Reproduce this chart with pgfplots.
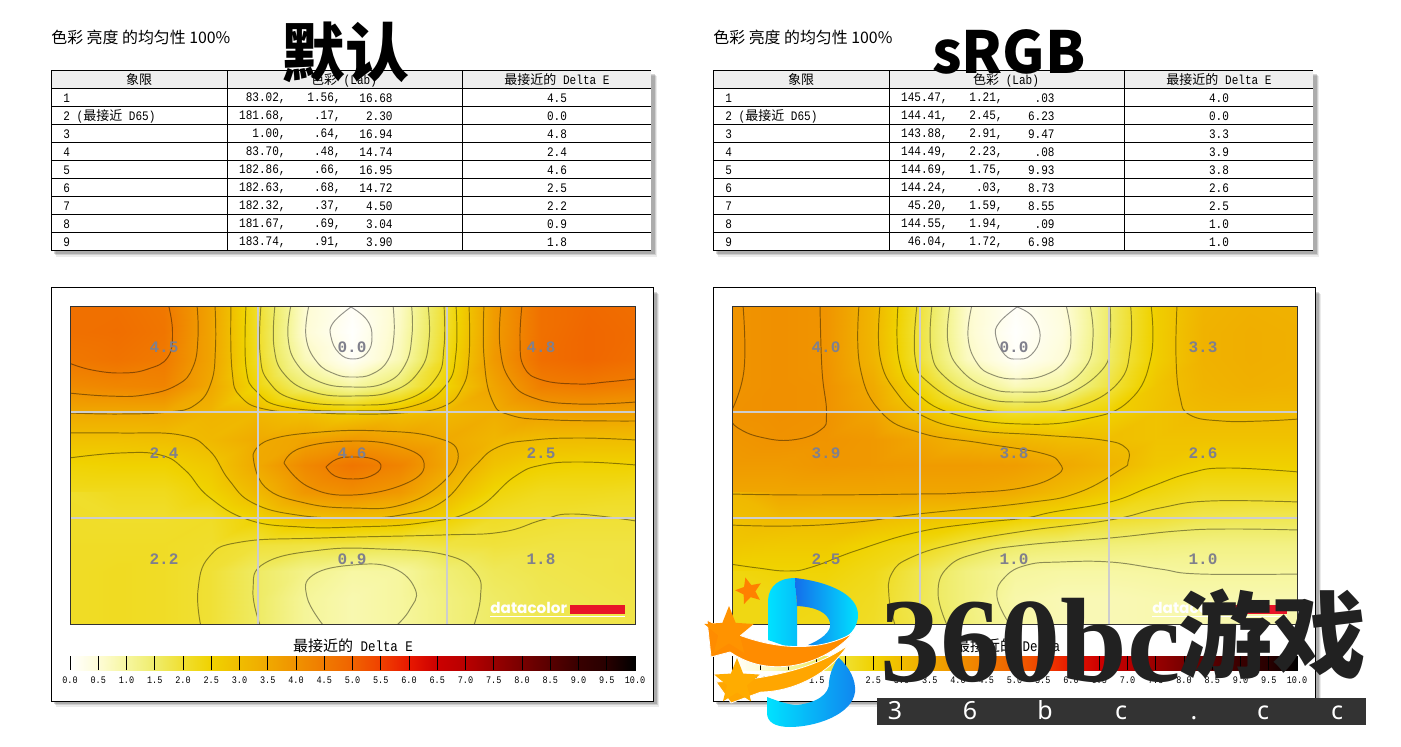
\documentclass[border=0pt]{standalone}
\usepackage{fontspec}
\usepackage{pgfplots}
\usepackage{pgfplotstable}
\usetikzlibrary{shapes.geometric}
\pgfplotsset{compat=1.18}
\setmainfont{Noto Sans}
\newfontfamily\cjk{Noto Sans CJK SC}
\newfontfamily\tm[FakeStretch=0.85]{Liberation Mono}
\newfontfamily\tmb{Liberation Mono}
\newfontfamily\wm{Liberation Serif}
\newfontfamily\dc{Poppins}
\definecolor{gridgray}{RGB}{205,205,205}
\definecolor{labgray}{RGB}{128,128,140}
\definecolor{headgray}{RGB}{239,239,239}
\definecolor{dcred}{RGB}{232,20,40}

% Delta E field, one value per image position, rows top to bottom, 13 per row
\pgfplotstableread[row sep=crcr,header=false]{
4.7\\4.7\\4.55\\3.6\\2.0\\.55\\.1\\.65\\2.05\\3.8\\4.7\\4.85\\4.75\\
4.7\\4.75\\4.6\\3.6\\2.05\\.52\\.02\\.7\\2.1\\3.8\\4.7\\4.9\\4.8\\
4.55\\4.65\\4.5\\3.6\\2.1\\.75\\.1\\.8\\2.25\\3.85\\4.75\\4.9\\4.75\\
4.15\\4.25\\4.3\\3.5\\2.35\\1.4\\.95\\1.5\\2.5\\3.6\\4.4\\4.5\\4.4\\
3.5\\3.5\\3.5\\3.2\\3.1\\2.9\\2.6\\2.9\\3.1\\3.35\\3.7\\3.75\\3.7\\
2.9\\2.9\\2.95\\3.1\\3.45\\3.6\\3.85\\3.65\\3.45\\3.15\\3.0\\3.0\\3.0\\
2.45\\2.5\\2.5\\2.75\\3.5\\4.2\\4.6\\4.3\\3.55\\2.85\\2.55\\2.5\\2.5\\
2.2\\2.2\\2.2\\2.5\\3.1\\3.9\\4.1\\3.85\\3.1\\2.4\\2.2\\2.2\\2.15\\
2.05\\2.05\\2.05\\2.1\\2.5\\2.9\\3.0\\2.9\\2.5\\2.1\\2.0\\1.95\\1.95\\
2.1\\2.1\\2.1\\2.05\\1.9\\1.85\\1.8\\1.75\\1.85\\1.9\\1.85\\1.85\\1.85\\
2.1\\2.15\\2.1\\1.95\\1.55\\1.2\\.95\\1.0\\1.4\\1.65\\1.75\\1.8\\1.85\\
2.1\\2.15\\2.1\\1.95\\1.55\\1.05\\.85\\1.0\\1.3\\1.55\\1.7\\1.75\\1.8\\
2.1\\2.15\\2.1\\1.95\\1.55\\1.05\\.85\\1.0\\1.3\\1.55\\1.7\\1.75\\1.8\\
}\fieldA
\pgfplotstableread[row sep=crcr,header=false]{
3.95\\4.05\\3.95\\3.15\\1.9\\.6\\.1\\.45\\1.5\\2.6\\3.2\\3.3\\3.25\\
3.95\\4.05\\3.95\\3.15\\1.85\\.6\\.02\\.4\\1.5\\2.6\\3.25\\3.35\\3.3\\
3.95\\4.05\\3.95\\3.2\\1.9\\.7\\.1\\.5\\1.55\\2.6\\3.25\\3.35\\3.3\\
3.95\\4.05\\4.0\\3.45\\2.35\\1.35\\.75\\1.0\\1.85\\2.8\\3.2\\3.3\\3.25\\
4.0\\4.05\\4.0\\3.6\\2.9\\2.4\\2.05\\2.15\\2.5\\2.85\\3.05\\3.05\\3.05\\
3.9\\4.0\\3.95\\3.85\\3.55\\3.25\\3.15\\3.0\\2.95\\2.85\\2.85\\2.85\\2.85\\
3.8\\3.8\\3.9\\3.85\\3.8\\3.8\\3.75\\3.5\\3.2\\2.75\\2.55\\2.55\\2.55\\
3.55\\3.55\\3.55\\3.55\\3.55\\3.55\\3.4\\3.05\\2.7\\2.35\\2.15\\2.15\\2.15\\
3.1\\3.05\\3.0\\3.0\\2.85\\2.75\\2.55\\2.35\\2.05\\1.95\\1.75\\1.7\\1.7\\
2.75\\2.7\\2.7\\2.45\\2.25\\1.85\\1.5\\1.4\\1.35\\1.3\\1.25\\1.25\\1.25\\
2.45\\2.45\\2.45\\2.25\\1.75\\1.3\\1.0\\.95\\.95\\.98\\1.02\\1.02\\1.02\\
2.35\\2.3\\2.3\\2.15\\1.7\\1.3\\.9\\.8\\.8\\.85\\.85\\.85\\.85\\
2.3\\2.3\\2.25\\2.1\\1.75\\1.35\\.95\\.8\\.8\\.85\\.85\\.85\\.85\\
}\fieldB
% colour bar, two rows of 21 stops
\pgfplotstableread[row sep=crcr,header=false]{
0\\.5\\1\\1.5\\2\\2.5\\3\\3.5\\4\\4.5\\5\\5.5\\6\\6.5\\7\\7.5\\8\\8.5\\9\\9.5\\10\\
0\\.5\\1\\1.5\\2\\2.5\\3\\3.5\\4\\4.5\\5\\5.5\\6\\6.5\\7\\7.5\\8\\8.5\\9\\9.5\\10\\
}\barvals

\pgfplotsset{
  colormap={dc}{rgb255=(255,255,255) rgb255=(254,252,215) rgb255=(246,246,158) rgb255=(239,236,106)
    rgb255=(240,223,48) rgb255=(240,210,0) rgb255=(240,188,0) rgb255=(240,168,0) rgb255=(240,146,0)
    rgb255=(240,122,0) rgb255=(240,98,0) rgb255=(240,64,0) rgb255=(232,24,0) rgb255=(204,0,0)
    rgb255=(184,0,0) rgb255=(152,0,0) rgb255=(120,0,0) rgb255=(88,0,0) rgb255=(56,0,0)
    rgb255=(40,0,0) rgb255=(0,0,0)},
  hm/.style={scale only axis,width=282.5pt,height=159pt,anchor=north west,y dir=reverse,
    axis on top,colormap name=dc,point meta min=0,point meta max=10,
    axis line style={draw=black!80,line width=.4pt},
    xticklabels={},yticklabels={},major tick length=0pt,
    grid=major,grid style={draw=gridgray,line width=.55pt}},
  cb/.style={scale only axis,width=282.5pt,height=7pt,anchor=north west,y dir=reverse,
    xmin=0,xmax=10,ymin=0,ymax=1,ytick=\empty,xtick distance=.5,colormap name=dc,
    point meta min=0,point meta max=10,axis on top,axis line style={draw=none},
    tick align=inside,major tick length=7pt,tick style={draw=black,line width=.35pt},
    xtick pos=bottom,
    /pgf/number format/.cd,fixed,fixed zerofill,precision=1,assume math mode=true,/pgfplots/.cd,
    xticklabel style={font=\tm\fontsize{5}{6}\selectfont,yshift=-1.5pt,inner sep=1.5pt,text height=3.6pt,text depth=0pt}},
  ct/.style={no marks,smooth,tension=.75,draw=black,opacity=.42,line width=.48pt},
  lbl/.style={only marks,mark=none,nodes near coords,point meta=explicit symbolic,
    every node near coord/.style={anchor=center,inner sep=0pt,text=labgray,
      font=\tmb\bfseries\fontsize{8}{9}\selectfont}}
}

\newcommand\tfont{\tm\fontsize{6.5}{7}\selectfont}
\newcommand\tcj{\cjk\fontsize{6.5}{7}\selectfont}

% table at horizontal offset #1 with rows #2
\newcommand\labtable[2]{%
  \fill[black,opacity=.08] (#1+56,76) rectangle (#1+657,257);
  \fill[black,opacity=.12] (#1+55,75) rectangle (#1+656,255);
  \fill[black,opacity=.16] (#1+54,74) rectangle (#1+655,254);
  \fill[white] (#1+51,71) rectangle (#1+651,251);
  \fill[headgray] (#1+51,71) rectangle (#1+651,89);
  \foreach \r in {0,...,10} \draw[black,line width=.5pt] (#1+51,71+18*\r) -- (#1+651,71+18*\r);
  \foreach \c in {51,227,462} \draw[black,line width=.5pt] (#1+\c,71) -- (#1+\c,251);
  \node[inner sep=0pt,font=\tcj] at (#1+139,80) {象限};
  \node[inner sep=0pt] at (#1+344,80) {\tcj 色彩{\tfont\ (Lab)}};
  \node[inner sep=0pt] at (#1+557,80) {\tcj 最接近的{\tfont\ Delta E}};
  \foreach \a/\b/\cc/\d [count=\i] in {#2} {
    \node[inner sep=0pt,anchor=west] at (#1+63,80+18*\i)
      {\tfont\i\ifnum\i=2\ ({\tcj 最接近}\ D65)\fi};
    \node[inner sep=0pt,anchor=east,font=\tfont] at (#1+286,80+18*\i) {\a,};
    \node[inner sep=0pt,anchor=east,font=\tfont] at (#1+341,80+18*\i) {\b,};
    \node[inner sep=0pt,anchor=east,font=\tfont] at (#1+393,80+18*\i) {\cc};
    \node[inner sep=0pt,font=\tfont] at (#1+557,80+18*\i) {\d};
  }
}
\newcommand\panelbox[1]{%
  \fill[black,opacity=.08] (#1+56,294) rectangle (#1+659,707);
  \fill[black,opacity=.12] (#1+55,293) rectangle (#1+658,705);
  \fill[black,opacity=.16] (#1+54,292) rectangle (#1+657,704);
  \fill[white,draw=black,line width=.5pt] (#1+51,288) rectangle (#1+653,701);
}
\newcommand\dclogo[1]{%
  \node[inner sep=0pt,anchor=west,text=white,font=\dc\bfseries\fontsize{7.6}{8}\selectfont] at (#1+490,607.5) {datacolor};
  \fill[dcred] (#1+570,605) rectangle (#1+625,614);
  \fill[white] (#1+490,615.5) rectangle (#1+625,617);
}

\begin{document}
\begin{tikzpicture}[x=.5pt,y=-.5pt]
\useasboundingbox (0,0) rectangle (1401,747);
\fill[white] (0,0) rectangle (1401,747);

\node[inner sep=0pt,anchor=west] at (51,37) {\cjk\fontsize{7.95}{9}\selectfont 色彩 亮度 的均匀性 100\%};
\node[inner sep=0pt,anchor=west] at (713,37) {\cjk\fontsize{7.95}{9}\selectfont 色彩 亮度 的均匀性 100\%};

\labtable{0}{83.02/1.56/16.68/4.5,181.68/.17/2.30/0.0,1.00/.64/16.94/4.8,83.70/.48/14.74/2.4,182.86/.66/16.95/4.6,182.63/.68/14.72/2.5,182.32/.37/4.50/2.2,181.67/.69/3.04/0.9,183.74/.91/3.90/1.8}
\labtable{662}{145.47/1.21/.03/4.0,144.41/2.45/6.23/0.0,143.88/2.91/9.47/3.3,144.49/2.23/.08/3.9,144.69/1.75/9.93/3.8,144.24/.03/8.73/2.6,45.20/1.59/8.55/2.5,144.55/1.94/.09/1.0,46.04/1.72/6.98/1.0}
\panelbox{0}
\panelbox{662}

\coordinate (hA) at (70,306);
\coordinate (hB) at (732,306);
\coordinate (cA) at (70,656);
\coordinate (cB) at (732,656);

% left field
\begin{axis}[hm,at={(hA)},xmin=70,xmax=635,ymin=306,ymax=624,xtick={258,447},ytick={412,518}]
\addplot[surf,shader=interp,mesh/cols=13,point meta=explicit]
  table[x index=0,y index=0,x expr={70+47.0833*mod(\coordindex,13)},y expr={306+26.5*floor(\coordindex/13)},meta index=0] {\fieldA};
\addplot[ct] coordinates {(168.5,305)(172.5,332)(168,357)(148,369)(122,373)(92,370)(69,363)};
\addplot[ct] coordinates {(197,305)(198,337)(193,367)(177,385)(144,395)(108,396)(69,393)};
\addplot[ct] coordinates {(215,305)(215.5,347)(211,383)(195,405)(168.5,412)(120,414)(69,413)};
\addplot[ct] coordinates {(231,305)(232,370)(241,397)(269,410)(321,413)(353,414)(401,413)(442,407)(462,388)(469,357)(469,305)};
\addplot[ct] coordinates {(246,305)(246,367)(257,392)(285,407)(353,411)(413,406)(446,385)(456,353)(456,305)};
\addplot[ct] coordinates {(261,305)(260,353)(269,382)(297,400)(353,405)(405,400)(436,378)(444,347)(444,305)};
\addplot[ct] coordinates {(275,305)(274,347)(285,375)(313,392)(353,396)(393,391)(420,370)(429,340)(428,305)};
\addplot[ct] coordinates {(291,305)(288,337)(297,364)(320,382)(353,387)(385,383)(405,365)(412,335)(411.5,305)};
\addplot[ct] coordinates {(309,305)(306,337)(317,362)(335,374)(353,377)(372,374)(388,360)(394,335)(393,305)};
\addplot[ct] coordinates {(351,307)(333,323)(331,337)(339,353)(353,359)(367,353)(372,337)(367,320)(351,307)};
\addplot[ct] coordinates {(522,305)(520,340)(524,367)(542,380)(578,384)(606,382)(636,379)};
\addplot[ct] coordinates {(501,305)(500,347)(510,380)(534,398)(578,404)(636,402)};
\addplot[ct] coordinates {(484,305)(484,357)(492,400)(510,415)(554,420)(636,421)};
\addplot[ct] coordinates {(326,467)(337,459)(353,457)(373,459)(381,467)(371,476)(353,479)(335,476)(326,467)};
\addplot[ct] coordinates {(284,463)(301,448)(353,441)(401,447)(424,463)(407,483)(353,495)(309,487)(284,463)};
\addplot[ct] coordinates {(253,455)(269,440)(321,432)(381,431)(434,437)(458,453)(442,483)(401,505)(353,508)(305,503)(265,487)(253,455)};
\addplot[ct] coordinates {(69,433)(120,433)(180.5,435)(209,450)(229,480)(253,503)(297,515)(353,518)(401,515)(442,502)(474,467)(498,447)(534,440)(582,438)(636,440)};
\addplot[ct] coordinates {(69,458)(120,453)(160.5,455)(185,470)(209,497)(249,520)(301,527)(353,527)(421,523)(474,510)(514,477)(542,465)(582,462)(636,465)};
\addplot[ct] coordinates {(200.6,625)(198,590)(209,557)(241,542)(321,538)(442,535)(502,532)(542,520)(574,514)(636,521)};
\addplot[ct] coordinates {(260,625)(253,590)(265,563)(321,550)(381,549)(446,555)(476,573)(480.5,597)(474,625)};
\addplot[ct] coordinates {(323,625)(307,597)(313,575)(353,565)(393,568)(415.5,590)(409.5,610)(397,625)};
\addplot[lbl] table[meta=v] {
x y v
164 347 4.5
352 347 0.0
541 347 4.8
164 453 2.4
352 453 4.6
541 453 2.5
164 559 2.2
352 559 0.9
541 559 1.8
};
\end{axis}

% right field
\begin{axis}[hm,at={(hB)},xmin=732,xmax=1297,ymin=306,ymax=624,xtick={920,1109},ytick={412,518}]
\addplot[surf,shader=interp,mesh/cols=13,point meta=explicit]
  table[x index=0,y index=0,x expr={732+47.0833*mod(\coordindex,13)},y expr={306+26.5*floor(\coordindex/13)},meta index=0] {\fieldB};
\addplot[ct] coordinates {(1017,307)(999,323)(996,337)(1005,355)(1017,359)(1031,355)(1040,337)(1033,317)(1017,307)};
\addplot[ct] coordinates {(972,305)(968,337)(977,363)(993,375)(1017,379)(1045,375)(1065,360)(1071,337)(1066,305)};
\addplot[ct] coordinates {(950,305)(948,343)(961,370)(989,388)(1021,392)(1057,388)(1085.5,367)(1093,337)(1090,305)};
\addplot[ct] coordinates {(932,305)(931,350)(945,377)(981,397)(1021,402)(1061,397)(1102,370)(1110,340)(1110,305)};
\addplot[ct] coordinates {(917,305)(915,357)(929,383)(973,407)(1029,412)(1077,407)(1118,383)(1130.5,347)(1130.5,305)};
\addplot[ct] coordinates {(898,305)(899,360)(917,393)(957,415)(1021,424)(1085.5,419)(1130,400)(1151,357)(1151,305)};
\addplot[ct] coordinates {(880,305)(880,357)(897,393)(925,417)(973,430)(1041,435)(1102,440)(1126,448)(1128,462)(1120,470)(1077,493)(1025,503)(918,514)(858,522)(792,526)(730,525)};
\addplot[ct] coordinates {(859,305)(860,367)(881,412)(921,433)(981,443)(1041,453)(1059.5,463)(1057,475)(1021,488)(961,493)(918,494)(808,495)(730,494)};
\addplot[ct] coordinates {(743,305)(744,370)(731,412)};
\addplot[ct] coordinates {(820,305)(822,370)(826.5,413)(820.5,430)(792,440)(760,437)(738,428)(731,420)};
\addplot[ct] coordinates {(1177,305)(1176,357)(1180,397)(1190,415)(1222,421)(1262,421)(1299,419)};
\addplot[ct] coordinates {(730,564)(758,568)(788,571)(812,567)(858,550)(918,532)(978,523)(1025,518)(1053,512)(1110,502)(1150,487)(1190,473)(1227,468)(1299,472)};
\addplot[ct] coordinates {(895,625)(889,597)(892,573)(912,557)(958,543)(1025,531)(1110,520)(1160,508)(1210,501)(1299,502)};
\addplot[ct] coordinates {(947,625)(938,593)(948,567)(978,553)(1025,545)(1110,538)(1177,531)(1227,529)(1299,530)};
\addplot[ct] coordinates {(1010,625)(997,597)(1005,577)(1027,565)(1060,562)(1110,562)(1160,569)(1200,574)(1299,574)};
\addplot[lbl] table[meta=v] {
x y v
826 347 4.0
1014 347 0.0
1203 347 3.3
826 453 3.9
1014 453 3.8
1203 453 2.6
826 559 2.5
1014 559 1.0
1203 559 1.0
};
\end{axis}

\dclogo{0}
\dclogo{662}

\node[inner sep=0pt] at (353,646) {\cjk\fontsize{7.5}{8}\selectfont 最接近的{\tm\fontsize{7.35}{8}\selectfont\ Delta E}};
\node[inner sep=0pt] at (1015,646) {\cjk\fontsize{7.5}{8}\selectfont 最接近的{\tm\fontsize{7.35}{8}\selectfont\ Delta E}};

\begin{axis}[cb,at={(cA)}]
\addplot[surf,shader=interp,mesh/cols=21,point meta=explicit]
  table[x index=0,y index=0,x expr={.5*mod(\coordindex,21)},y expr={floor(\coordindex/21)},meta index=0] {\barvals};
\end{axis}
\begin{axis}[cb,at={(cB)}]
\addplot[surf,shader=interp,mesh/cols=21,point meta=explicit]
  table[x index=0,y index=0,x expr={.5*mod(\coordindex,21)},y expr={floor(\coordindex/21)},meta index=0] {\barvals};
\end{axis}

% overlaid captions
\node[inner sep=0pt] at (345.5,52) {\cjk\bfseries\fontsize{32}{33}\selectfont 默认};
\node[inner sep=0pt] at (1009,52) {\cjk\bfseries\fontsize{29}{33}\selectfont sRGB};

% site mark
\definecolor{bcyan}{RGB}{0,226,255}
\definecolor{bblue}{RGB}{20,110,235}
\shade[left color=bcyan,right color=bcyan!70!bblue]
  (768,600) .. controls (769,585) and (780,578) .. (795,578) -- (797,606) -- (797,650) -- (768,640) -- cycle;
\shade[left color=bblue,right color=bcyan]
  (795,578) .. controls (830,582) and (858,595) .. (858,615)
  .. controls (858,635) and (835,648) .. (808,645) .. controls (820,640) and (832,632) .. (830,623)
  .. controls (828,612) and (815,607) .. (797,606) -- cycle;
\shade[left color=bcyan,right color=bblue!80!bcyan]
  (838,657) .. controls (850,668) and (856,680) .. (855,692) .. controls (852,715) and (815,727) .. (790,727)
  .. controls (775,727) and (767,722) .. (767,713) -- (767,697) .. controls (780,702) and (790,705) .. (797,705)
  .. controls (815,703) and (830,695) .. (829,682) .. controls (830,672) and (834,665) .. (838,657) -- cycle;
\fill[orange!90!yellow,draw=white,line width=.4pt] (707,620) .. controls (760,650) and (815,655) .. (853,633)
  .. controls (825,665) and (770,680) .. (730,652) -- (711,657) -- cycle;
\fill[orange!70!yellow,draw=white,line width=.4pt] (716,682) .. controls (760,680) and (815,670) .. (848,645)
  .. controls (825,680) and (785,692) .. (761,692) -- (731,703) -- cycle;
\node[star,star points=5,star point ratio=2.3,fill=orange!85!yellow,minimum size=26pt,inner sep=0pt] at (729,632) {};
\node[star,star points=5,star point ratio=2.3,fill=orange!65!yellow,minimum size=24pt,inner sep=0pt] at (737,682) {};
\node[star,star points=5,star point ratio=2.2,fill=orange,minimum size=14pt,inner sep=0pt,rotate=15] at (749,591) {};

\node[inner sep=0pt,anchor=base west,text=black!87] at (880,681) {\wm\bfseries\fontsize{60}{62}\selectfont 360bc};
\node[inner sep=0pt,anchor=base west,text=black!87] at (1178,670) {\cjk\bfseries\fontsize{47}{50}\selectfont 游戏};
\fill[black!80] (877,698) rectangle (1366,725);
\foreach \px/\ch in {895/3,970/6,1045/b,1121/c,1194/.,1263/c,1337/c}
  \node[inner sep=0pt,anchor=base,text=white,font=\fontsize{12.5}{13}\selectfont] at (\px,719) {\ch};
\end{tikzpicture}
\end{document}
